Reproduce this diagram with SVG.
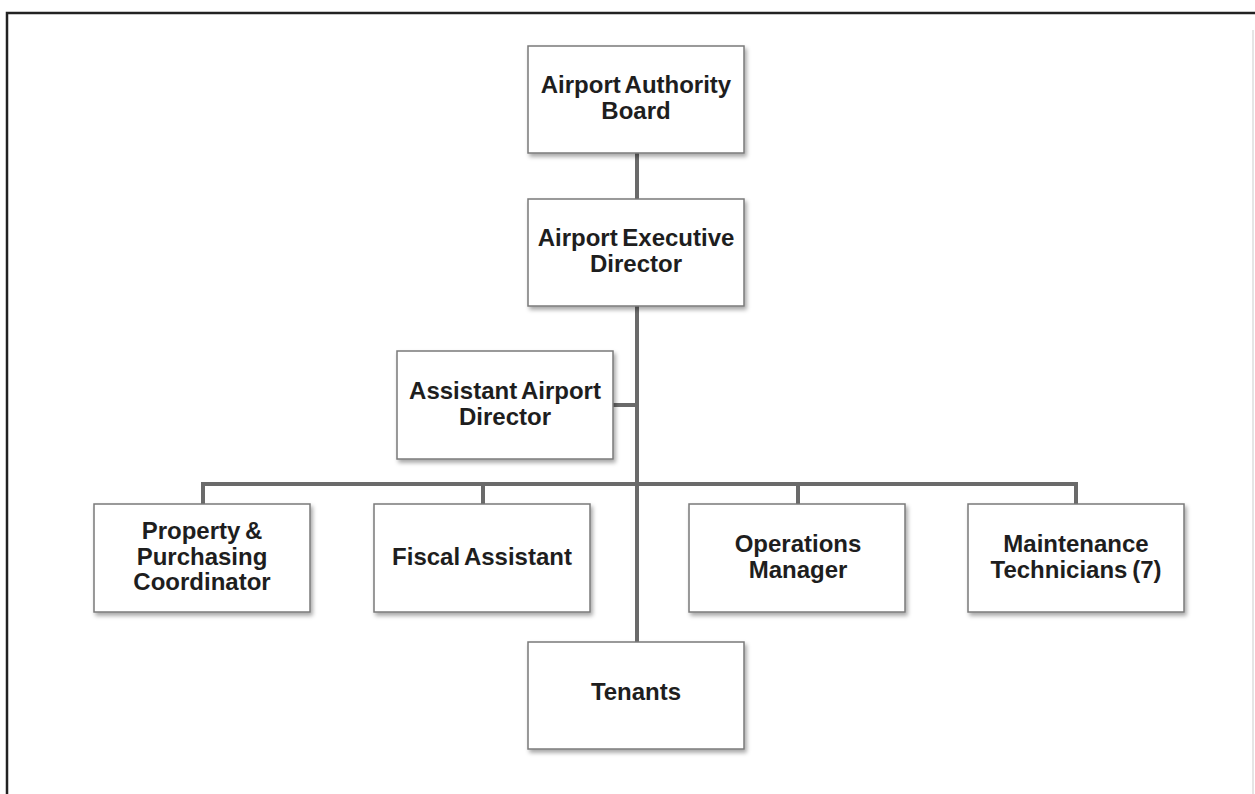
<svg xmlns="http://www.w3.org/2000/svg" width="1255" height="794" viewBox="0 0 1255 794">
<defs>
<filter id="sh" x="-10%" y="-10%" width="125%" height="130%">
<feDropShadow dx="2" dy="3" stdDeviation="2" flood-color="#000" flood-opacity="0.35"/>
</filter>
<style>
.box{fill:#fff;stroke:#7a7a7a;stroke-width:1.5;filter:url(#sh)}
.t{font-family:"Liberation Sans",Arial,sans-serif;font-weight:bold;font-size:24px;fill:#1e1e1e;text-anchor:middle;word-spacing:-2px}
.c{stroke:#6a6a6a;stroke-width:4;fill:none}
</style>
</defs>
<rect x="0" y="0" width="1255" height="794" fill="#fff"/>
<path d="M7 794 V13 H1255" fill="none" stroke="#222" stroke-width="2.5"/>
<line x1="1253" y1="30" x2="1253" y2="794" stroke="#ddd" stroke-width="1.5"/>
<g id="connectors">
<line class="c" x1="637" y1="153" x2="637" y2="642"/>
<line class="c" x1="613" y1="405" x2="637" y2="405"/>
<line class="c" x1="203" y1="484" x2="1076" y2="484"/>
<line class="c" x1="203" y1="482" x2="203" y2="504"/>
<line class="c" x1="483" y1="482" x2="483" y2="504"/>
<line class="c" x1="798" y1="482" x2="798" y2="504"/>
<line class="c" x1="1076" y1="482" x2="1076" y2="504"/>
</g>
<g id="board">
<rect class="box" x="528" y="46" width="216" height="107"/>
<text class="t" x="636" y="93">Airport Authority</text>
<text class="t" x="636" y="119">Board</text>
</g>
<g id="executive">
<rect class="box" x="528" y="199" width="216" height="107"/>
<text class="t" x="636" y="246">Airport Executive</text>
<text class="t" x="636" y="272">Director</text>
</g>
<g id="assistant">
<rect class="box" x="397" y="351" width="216" height="108"/>
<text class="t" x="505" y="399">Assistant Airport</text>
<text class="t" x="505" y="425">Director</text>
</g>
<g id="property">
<rect class="box" x="94" y="504" width="216" height="108"/>
<text class="t" x="202" y="539">Property &amp;</text>
<text class="t" x="202" y="565">Purchasing</text>
<text class="t" x="202" y="590">Coordinator</text>
</g>
<g id="fiscal">
<rect class="box" x="374" y="504" width="216" height="108"/>
<text class="t" x="482" y="565">Fiscal Assistant</text>
</g>
<g id="operations">
<rect class="box" x="689" y="504" width="216" height="108"/>
<text class="t" x="798" y="552">Operations</text>
<text class="t" x="798" y="578">Manager</text>
</g>
<g id="maintenance">
<rect class="box" x="968" y="504" width="216" height="108"/>
<text class="t" x="1076" y="552">Maintenance</text>
<text class="t" x="1076" y="578">Technicians (7)</text>
</g>
<g id="tenants">
<rect class="box" x="528" y="642" width="216" height="107"/>
<text class="t" x="636" y="700">Tenants</text>
</g>
</svg>
